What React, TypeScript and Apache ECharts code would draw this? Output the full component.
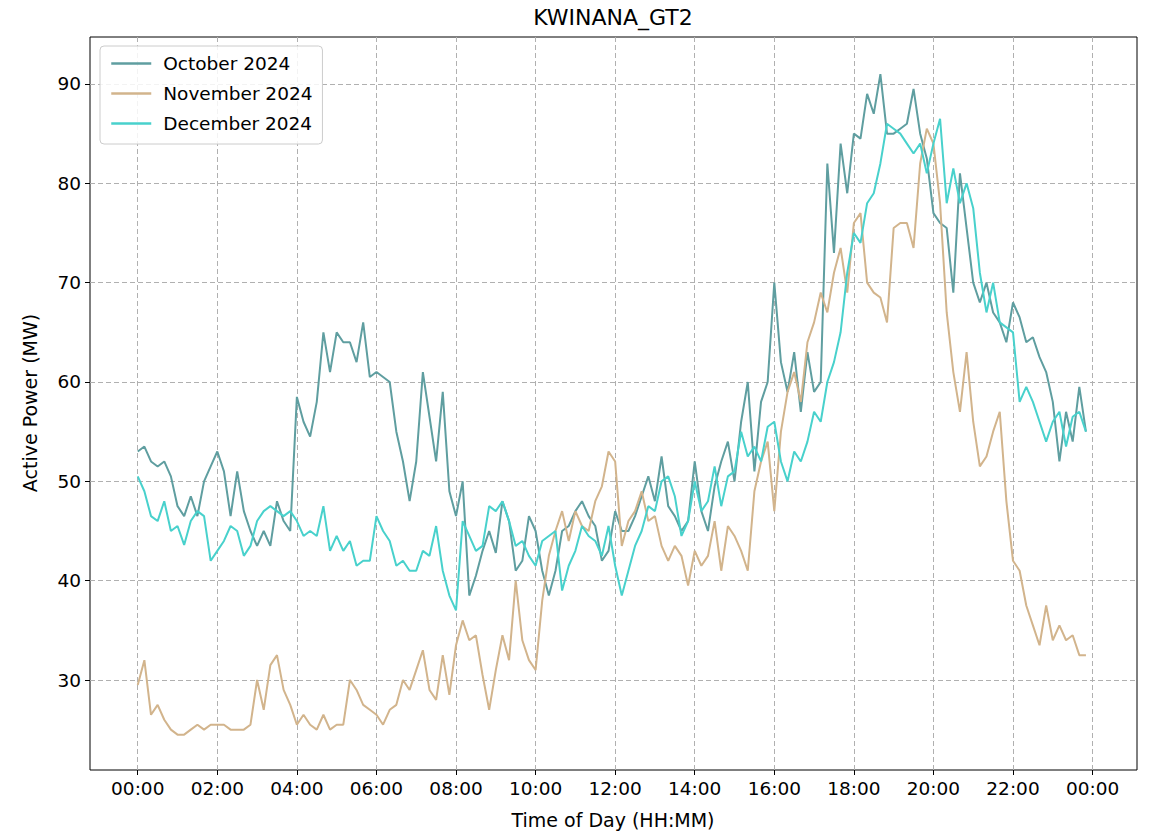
import React, { useEffect, useRef } from "react";
import * as echarts from "echarts";

// 10-minute samples over one day (minutes after midnight = index * 10)
const STEP_MIN = 10;

const october2024 = [
  53, 53.5, 52, 51.5, 52, 50.5, 47.5, 46.5, 48.5, 46.5, 50, 51.5,
  53, 51, 46.5, 51, 47, 45, 43.5, 45, 43.5, 48, 46, 45,
  58.5, 56, 54.5, 58, 65, 61, 65, 64, 64, 62, 66, 60.5,
  61, 60.5, 60, 55, 52, 48, 52, 61, 56.5, 52, 59, 49,
  46.5, 50, 38.5, 40.5, 43, 45, 42.8, 48, 46, 41, 42, 46.5,
  45, 41, 38.5, 41, 45, 45.5, 47, 48, 46.5, 45.5, 42, 43,
  47, 45, 45, 46.5, 48.5, 50.5, 48, 52.5, 47.5, 46.5, 45, 46,
  52, 47, 45, 49.5, 52, 54, 50, 56, 60, 51, 58, 60,
  70, 62, 59, 63, 57, 63, 59, 60, 82, 73, 84, 79,
  85, 84.5, 89, 87, 91, 85, 85, 85.5, 86, 89.5, 85, 82.5,
  77, 76, 75.5, 69, 81, 75.5, 70, 68, 70, 67, 66, 64,
  68, 66.5, 64, 64.5, 62.5, 61, 58, 52, 57, 54, 59.5, 55,
];

const november2024 = [
  29.5, 32, 26.5, 27.5, 26, 25, 24.5, 24.5, 25, 25.5, 25, 25.5,
  25.5, 25.5, 25, 25, 25, 25.5, 30, 27, 31.5, 32.5, 29, 27.5,
  25.5, 26.5, 25.5, 25, 26.5, 25, 25.5, 25.5, 30, 29, 27.5, 27,
  26.5, 25.5, 27, 27.5, 30, 29, 31, 33, 29, 28, 32.5, 28.5,
  33.5, 36, 34, 34.5, 30.5, 27, 31, 34.5, 32, 40, 34, 32,
  31, 38, 42.5, 45, 47, 44, 47, 45.5, 45, 48, 49.5, 53,
  52, 43.5, 46, 47, 49, 46, 46.5, 43.5, 42, 43.5, 42.5, 39.5,
  43, 41.5, 42.5, 46, 41, 45.5, 44.5, 43, 41, 49, 52, 54,
  47, 55, 59, 61, 58, 64, 66, 69, 67, 71, 73.5, 69,
  76, 77, 70, 69, 68.5, 66, 75.5, 76, 76, 73.5, 82, 85.5,
  84, 78, 67, 61, 57, 63, 56, 51.5, 52.5, 55, 57, 48,
  42, 41, 37.5, 35.5, 33.5, 37.5, 34, 35.5, 34, 34.5, 32.5, 32.5,
];

const december2024 = [
  50.5, 49, 46.5, 46, 48, 45, 45.5, 43.6, 46, 47, 46.5, 42,
  43, 44, 45.5, 45, 42.5, 43.5, 46, 47, 47.5, 47, 46.5, 47,
  46, 44.5, 45, 44.5, 47.5, 43, 44.5, 43, 44, 41.5, 42, 42,
  46.5, 45, 44, 41.5, 42, 41, 41, 43, 42.5, 45.5, 41, 38.5,
  37, 46, 44.5, 43, 43.5, 47.5, 47, 48, 46, 43.5, 44, 42.5,
  41.5, 44, 44.5, 45, 39, 41.5, 43, 45.5, 44.5, 44, 42.5, 45.5,
  41.5, 38.5, 41, 43.5, 45, 47.5, 47, 50, 50.5, 48.5, 44.5, 46,
  50, 47, 48, 51.5, 47.5, 50.5, 51, 55, 52.5, 53.5, 52, 55.5,
  56, 52, 50, 53, 52, 54, 57, 56, 60, 62, 65, 71,
  75, 74, 78, 79, 82, 86, 85.5, 85, 84, 83, 84, 81,
  84, 86.5, 78, 81.5, 78, 80, 77.5, 71, 67, 70, 66, 65.5,
  65, 58, 59.5, 58, 56, 54, 56, 57, 53.5, 56.5, 57, 55,
];

const xTickMinutes = [0, 120, 240, 360, 480, 600, 720, 840, 960, 1080, 1200, 1320, 1440];
const yTickValues = [30, 40, 50, 60, 70, 80, 90];

const seriesNames = ["October 2024", "November 2024", "December 2024"];
const seriesColors = ["#5f9ea0", "#d2b48c", "#48d1cc"];

const FONT = "DejaVu Sans";

function toPairs(values: number[]) {
  return values.map((v, i) => [i * STEP_MIN, v]);
}

function fmtTime(m: number) {
  const h = Math.floor(m / 60) % 24;
  const mm = m % 60;
  return String(h).padStart(2, "0") + ":" + String(mm).padStart(2, "0");
}

export default function App() {
  const ref = useRef<HTMLDivElement>(null);
  useEffect(() => {
    if (!ref.current) return;
    const chart = echarts.init(ref.current, null, { renderer: "svg" });
    const allData = [october2024, november2024, december2024];
    chart.setOption({
      animation: false,
      backgroundColor: "#ffffff",
      grid: {
        left: 90,
        right: 13,
        top: 37,
        bottom: 64,
        show: true,
        borderColor: "#000000",
        borderWidth: 1,
        backgroundColor: "transparent",
      },
      graphic: [
        {
          type: "text",
          x: 613,
          y: 17,
          style: {
            text: "KWINANA_GT2",
            font: `22px '${FONT}'`,
            fill: "#000",
            textAlign: "center",
            textVerticalAlign: "middle",
          },
        },
        {
          type: "text",
          x: 613,
          y: 820,
          style: {
            text: "Time of Day (HH:MM)",
            font: `19px '${FONT}'`,
            fill: "#000",
            textAlign: "center",
            textVerticalAlign: "middle",
          },
        },
        {
          type: "text",
          x: 30,
          y: 403,
          rotation: Math.PI / 2,
          style: {
            text: "Active Power (MW)",
            font: `19px '${FONT}'`,
            fill: "#000",
            textAlign: "center",
            textVerticalAlign: "middle",
          },
        },
      ],
      legend: {
        orient: "vertical",
        left: 100,
        top: 46,
        padding: [8, 10, 11, 10],
        itemWidth: 40,
        itemHeight: 20,
        itemGap: 11,
        backgroundColor: "rgba(255,255,255,0.85)",
        borderColor: "#cccccc",
        borderWidth: 1,
        borderRadius: 4,
        textStyle: { fontFamily: FONT, fontSize: 18.5, color: "#000", padding: [0, 0, 0, 7] },
        data: seriesNames,
        itemStyle: { opacity: 0 },
        lineStyle: { width: 2.5, opacity: 1 },
      },
      xAxis: {
        type: "value",
        min: -72,
        max: 1507,
        axisLine: { show: false, onZero: false },
        axisTick: {
          show: true,
          customValues: xTickMinutes,
          length: 5,
          lineStyle: { color: "#000" },
        },
        axisLabel: {
          customValues: xTickMinutes,
          formatter: (v: number) => fmtTime(v),
          fontFamily: FONT,
          fontSize: 18.5,
          color: "#000",
          margin: 9,
        },
        splitLine: {
          show: true,
          lineStyle: { color: "#b0b0b0", type: [5, 3], width: 1 },
        },
      },
      yAxis: {
        type: "value",
        min: 20.94,
        max: 94.73,
        axisLine: { show: false, onZero: false },
        axisTick: {
          show: true,
          customValues: yTickValues,
          length: 5,
          lineStyle: { color: "#000" },
        },
        axisLabel: {
          customValues: yTickValues,
          fontFamily: FONT,
          fontSize: 18.5,
          color: "#000",
          margin: 9,
        },
        splitLine: {
          show: true,
          lineStyle: { color: "#b0b0b0", type: [5, 3], width: 1 },
        },
      },
      series: seriesNames.map((name, k) => ({
        name,
        type: "line",
        data: toPairs(allData[k]),
        symbol: "none",
        showSymbol: false,
        color: seriesColors[k],
        lineStyle: { width: 2, color: seriesColors[k] },
        itemStyle: { color: seriesColors[k] },
        z: 2 + k,
      })),
    });
    return () => chart.dispose();
  }, []);
  return (
    <div
      ref={ref}
      style={{ position: "absolute", left: 0, top: 0, width: 1150, height: 834 }}
    />
  );
}
